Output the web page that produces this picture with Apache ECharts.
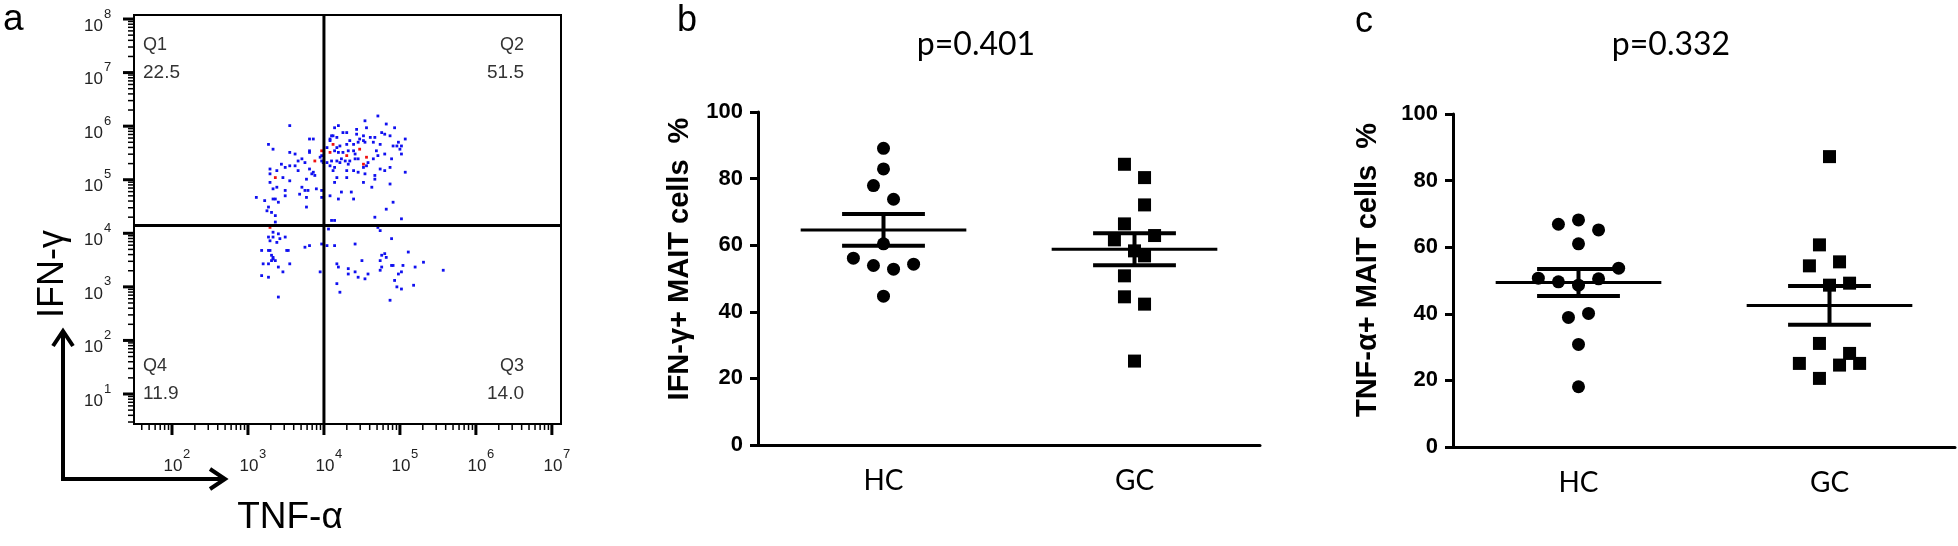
<!DOCTYPE html>
<html><head><meta charset="utf-8">
<script src="https://cdn.jsdelivr.net/npm/echarts@6/dist/echarts.min.js"></script>
<style>html,body{margin:0;padding:0;background:#fff}#c{width:1958px;height:546px}</style>
</head><body><div id="c"></div><script>
// ---------- Panel a: flow cytometry dot plot (values are log10 of fluorescence: [TNF-α, IFN-γ]) ----------
const dotsQ1 = [[3.55,6.01],[3.81,5.76],[3.86,5.76],[3.27,5.66],[3.33,5.57],[3.55,5.51],[3.62,5.48],[3.81,5.54],[3.81,5.51],[3.95,5.42],[3.71,5.39],[3.66,5.35],[3.75,5.32],[3.44,5.29],[3.55,5.26],[3.62,5.26],[3.49,5.23],[3.29,5.20],[3.38,5.17],[3.66,5.17],[3.81,5.20],[3.86,5.14],[3.97,5.35],[3.99,5.32],[3.97,5.45],[3.29,5.11],[3.46,5.04],[3.55,4.98],[3.77,5.01],[3.84,5.11],[3.88,5.08],[3.29,4.95],[3.38,4.86],[3.33,4.83],[3.71,4.86],[3.75,4.80],[3.79,4.80],[3.68,4.73],[3.49,4.80],[3.49,4.70],[3.36,4.64],[3.33,4.64],[3.40,4.58],[3.22,4.61],[3.11,4.67],[3.77,4.67],[3.97,4.67],[3.90,4.83],[3.97,4.80],[3.27,4.49],[3.25,4.42],[3.31,4.39],[3.77,4.49],[3.36,4.33],[3.36,4.21]];
const dotsQ2 = [[4.71,6.19],[4.54,6.10],[4.82,6.04],[4.19,6.01],[4.14,5.97],[4.93,5.97],[4.43,5.94],[4.56,5.97],[4.25,5.88],[4.30,5.88],[4.10,5.82],[4.12,5.82],[4.17,5.79],[4.08,5.76],[4.43,5.85],[4.52,5.82],[4.61,5.79],[4.67,5.79],[4.76,5.88],[4.80,5.85],[4.87,5.82],[5.07,5.76],[4.47,5.76],[4.52,5.73],[4.34,5.73],[4.39,5.66],[4.45,5.70],[4.54,5.70],[4.65,5.70],[4.74,5.66],[4.91,5.63],[4.98,5.70],[5.02,5.63],[5.00,5.57],[4.96,5.63],[4.30,5.66],[4.08,5.73],[4.17,5.60],[4.21,5.63],[4.04,5.60],[4.14,5.54],[4.19,5.51],[4.25,5.51],[4.32,5.54],[4.39,5.54],[4.41,5.48],[4.69,5.54],[4.71,5.45],[4.80,5.48],[5.02,5.48],[4.23,5.39],[4.17,5.35],[4.21,5.32],[4.28,5.35],[4.34,5.35],[4.41,5.39],[4.45,5.39],[4.58,5.32],[4.65,5.39],[4.10,5.35],[4.04,5.32],[4.08,5.26],[4.14,5.23],[4.32,5.29],[4.52,5.23],[4.56,5.26],[4.89,5.39],[4.87,5.23],[4.74,5.20],[4.80,5.17],[5.07,5.14],[4.12,5.17],[4.30,5.17],[4.39,5.17],[4.45,5.14],[4.54,5.11],[4.17,5.04],[4.30,5.04],[4.67,5.08],[4.67,5.01],[4.52,4.95],[4.14,4.95],[4.87,4.92],[4.63,4.86],[4.23,4.77],[4.36,4.77],[4.08,4.70],[4.19,4.64],[4.39,4.64],[4.91,4.58],[4.82,4.45],[4.67,4.30],[5.02,4.27],[4.10,4.24],[4.14,4.24]];
const dotsQ4 = [[3.33,4.02],[3.33,3.93],[3.40,3.99],[3.27,3.93],[3.42,3.90],[3.49,3.93],[3.29,3.86],[3.38,3.83],[3.81,3.77],[3.75,3.74],[3.97,3.80],[3.18,3.68],[3.27,3.68],[3.29,3.68],[3.51,3.68],[3.53,3.68],[3.31,3.59],[3.33,3.55],[3.31,3.49],[3.36,3.49],[3.33,3.52],[3.20,3.43],[3.27,3.43],[3.55,3.43],[3.40,3.37],[3.46,3.28],[3.27,3.18],[3.18,3.21],[3.95,3.28],[3.40,2.81]];
const dotsQ3 = [[4.06,4.08],[4.71,4.11],[4.74,4.05],[4.04,3.77],[4.14,3.77],[4.41,3.80],[4.89,3.90],[5.11,3.65],[4.76,3.59],[4.80,3.62],[4.82,3.55],[4.50,3.49],[4.74,3.49],[4.76,3.37],[4.17,3.43],[4.19,3.37],[4.89,3.40],[4.91,3.40],[5.04,3.40],[5.20,3.37],[5.31,3.46],[4.32,3.34],[4.32,3.24],[4.41,3.28],[4.58,3.24],[4.45,3.18],[4.54,3.15],[4.74,3.31],[4.98,3.24],[5.02,3.28],[5.57,3.31],[4.93,3.12],[5.18,3.03],[4.17,3.06],[4.96,3.00],[5.02,2.96],[4.21,2.90],[4.87,2.75]];
const dotsRed = [[3.97,5.54],[3.88,5.35],[3.36,5.04],[4.12,5.66],[4.08,5.51],[4.47,5.57],[4.56,5.42],[4.30,5.45],[4.52,5.29],[3.29,4.11]];
const gateTNF = 10000;
const gateIFN = 14000;
const quadNames = ['Q1','Q2','Q3','Q4'];
const quadPct = [22.5, 51.5, 14.0, 11.9];

// ---------- Panels b and c: % of MAIT cells ----------
const groups = ['HC','GC'];
const hcIFN = [89.1, 82.9, 77.9, 73.8, 60.4, 56.1, 53.9, 52.8, 54.3, 44.7];
const hcIFNJitter = [0, 0, -0.04, 0.04, 0, -0.12, -0.04, 0.04, 0.12, 0];
const gcIFN = [84.3, 80.3, 72.1, 66.4, 61.6, 62.9, 58.3, 56.8, 50.8, 44.5, 42.3, 25.2];
const gcIFNJitter = [-0.04, 0.04, 0.04, -0.04, -0.08, 0.08, 0, 0.04, -0.04, -0.04, 0.04, 0];
const hcTNF = [66.9, 68.2, 65.2, 61.0, 53.7, 50.7, 49.6, 48.6, 50.5, 40.1, 38.9, 30.8, 18.1];
const hcTNFJitter = [-0.08, 0, 0.08, 0, 0.16, -0.16, -0.08, 0, 0.08, 0.04, -0.04, 0, 0];
const gcTNF = [87.2, 60.7, 55.6, 54.4, 48.6, 49.2, 31.1, 28.1, 25.1, 24.6, 25.1, 20.6];
const gcTNFJitter = [0, -0.04, 0.04, -0.08, 0, 0.08, -0.04, 0.08, -0.12, 0.04, 0.12, -0.04];
const pValues = [0.401, 0.332];
const yTitles = ['IFN-\u03b3+ MAIT cells  %', 'TNF-\u03b1+ MAIT cells  %'];

// ---------- build ----------
const chart = echarts.init(document.getElementById('c'), null, {renderer: 'canvas'});
const pow10 = arr => arr.map(p => [Math.pow(10, p[0]), Math.pow(10, p[1])]);
const aXMin = Math.pow(10, 1.5), aXMax = Math.pow(10, 7.12);
const aYMin = Math.pow(10, 0.44), aYMax = Math.pow(10, 8.075);

const tickData = [];
for (let n = 1; n <= 7; n++) for (let k = 1; k <= 9; k++) {
  const v = k * Math.pow(10, n);
  if (v >= aXMin && v <= aXMax) tickData.push([v, aYMin, k === 1 ? 1 : 0, 0]);
}
for (let n = 0; n <= 8; n++) for (let k = 1; k <= 9; k++) {
  const v = k * Math.pow(10, n);
  if (v >= aYMin && v <= aYMax) tickData.push([aXMin, v, k === 1 ? 1 : 0, 1]);
}
const lblFont = '17px "Liberation Sans", Arial, sans-serif';
const supFont = '13px "Liberation Sans", Arial, sans-serif';
function txt(text, x, y, font, align, valign, fill) {
  return {type: 'text', style: {text, x, y, font, fill: fill || '#222', align, verticalAlign: valign, textAlign: align, textVerticalAlign: valign}};
}
function renderTick(params, api) {
  const cs = params.coordSys;
  const v0 = api.value(0), v1 = api.value(1), major = api.value(2), ax = api.value(3);
  const ch = [];
  if (ax === 0) {
    const x = api.coord([v0, v1])[0];
    const b = cs.y + cs.height;
    ch.push({type: 'line', shape: {x1: x, y1: b, x2: x, y2: b + (major ? 11 : 6)}, style: {stroke: '#000', lineWidth: major ? 3 : 1.5}});
    if (major) {
      const e = Math.round(Math.log10(v0));
      ch.push(txt('10', x + 1, b + 42, lblFont, 'center', 'middle'));
      ch.push(txt(String(e), x + 11, b + 30, supFont, 'left', 'middle'));
    }
  } else {
    const y = api.coord([v0, v1])[1];
    const l = cs.x;
    ch.push({type: 'line', shape: {x1: l - (major ? 11 : 6), y1: y, x2: l, y2: y}, style: {stroke: '#000', lineWidth: major ? 3 : 1.5}});
    if (major) {
      const e = Math.round(Math.log10(v1));
      ch.push(txt('10', l - 31, y + 7, lblFont, 'right', 'middle'));
      ch.push(txt(String(e), l - 30, y - 5, supFont, 'left', 'middle'));
    }
  }
  return {type: 'group', children: ch};
}
function renderGate(params, api) {
  const cs = params.coordSys;
  const p = api.coord([api.value(0), api.value(1)]);
  return {type: 'group', children: [
    {type: 'line', shape: {x1: p[0], y1: cs.y, x2: p[0], y2: cs.y + cs.height}, style: {stroke: '#000', lineWidth: 3}},
    {type: 'line', shape: {x1: cs.x, y1: p[1], x2: cs.x + cs.width, y2: p[1]}, style: {stroke: '#000', lineWidth: 3}}
  ]};
}
const mean = a => a.reduce((s, v) => s + v, 0) / a.length;
const sem = a => { const m = mean(a); return Math.sqrt(a.reduce((s, v) => s + (v - m) * (v - m), 0) / (a.length - 1)) / Math.sqrt(a.length); };
function renderMeanSem(params, api) {
  const g = api.value(0), m = api.value(1), s = api.value(2);
  const L = (a, b, w) => ({type: 'line', shape: {x1: a[0], y1: a[1], x2: b[0], y2: b[1]}, style: {stroke: '#000', lineWidth: w}});
  return {type: 'group', children: [
    L(api.coord([g - 0.33, m]), api.coord([g + 0.33, m]), 3),
    L(api.coord([g - 0.165, m + s]), api.coord([g + 0.165, m + s]), 4),
    L(api.coord([g - 0.165, m - s]), api.coord([g + 0.165, m - s]), 4),
    L(api.coord([g, m - s]), api.coord([g, m + s]), 4)
  ]};
}
const jit = (vals, jt, g) => vals.map((v, i) => [g + jt[i], v]);

function catAxis(gi) {
  return {gridIndex: gi, type: 'category', data: groups, boundaryGap: true,
    axisLine: {onZero: false, lineStyle: {color: '#000', width: 3}},
    axisTick: {alignWithLabel: true, length: 7, lineStyle: {color: '#000', width: 3}},
    axisLabel: {margin: 22, color: '#000', fontSize: 28, fontFamily: 'Lato, "Open Sans", sans-serif'},
    splitLine: {show: false}};
}
function valAxisY(gi) {
  return {gridIndex: gi, type: 'value', min: 0, max: 100, interval: 20,
    axisLine: {show: true, onZero: false, lineStyle: {color: '#000', width: 3}},
    axisTick: {show: true, length: 8, lineStyle: {color: '#000', width: 3}},
    axisLabel: {margin: 15, color: '#000', fontSize: 22, fontWeight: 'bold', fontFamily: '"Liberation Sans", Arial, sans-serif'},
    splitLine: {show: false}};
}
const hiddenX = gi => ({gridIndex: gi, type: 'value', min: 0.5, max: 2.5, show: false, splitLine: {show: false}});

const dotStyle = c => ({type: 'scatter', xAxisIndex: 0, yAxisIndex: 0, symbol: 'rect', symbolSize: 2.8, itemStyle: {color: c, opacity: 1}, silent: true, z: 2});
const bigDot = (xi, yi, sym, data) => ({type: 'scatter', xAxisIndex: xi, yAxisIndex: yi, symbol: sym, symbolSize: 13, itemStyle: {color: '#000', opacity: 1}, data, silent: true, z: 2});

const fontA = '"Liberation Sans", Arial, sans-serif';
const T = (text, x, y, font, align, extra) => Object.assign({type: 'text', x, y, style: {text, font, fill: '#000', align, verticalAlign: 'middle', textAlign: align, textVerticalAlign: 'middle'}}, extra || {});
const graphics = [
  // quadrant labels
  T(quadNames[0], 143, 45, '18px ' + fontA, 'left'),
  T(quadPct[0].toFixed(1), 143, 73, '19px ' + fontA, 'left'),
  T(quadNames[1], 524, 45, '18px ' + fontA, 'right'),
  T(quadPct[1].toFixed(1), 524, 73, '19px ' + fontA, 'right'),
  T(quadNames[2], 524, 366, '18px ' + fontA, 'right'),
  T(quadPct[2].toFixed(1), 524, 394, '19px ' + fontA, 'right'),
  T(quadNames[3], 143, 366, '18px ' + fontA, 'left'),
  T(quadPct[3].toFixed(1), 143, 394, '19px ' + fontA, 'left'),
  // arrows
  {type: 'polyline', shape: {points: [[63, 479], [63, 331]]}, style: {stroke: '#000', lineWidth: 4, fill: null}},
  {type: 'polyline', shape: {points: [[53, 346], [63, 331], [73, 346]]}, style: {stroke: '#000', lineWidth: 4, fill: null}},
  {type: 'polyline', shape: {points: [[61, 479], [225, 479]]}, style: {stroke: '#000', lineWidth: 4, fill: null}},
  {type: 'polyline', shape: {points: [[210, 469], [225, 479], [210, 489]]}, style: {stroke: '#000', lineWidth: 4, fill: null}},
  T('IFN-\u03b3', 53, 274, '36px ' + fontA, 'center', {rotation: Math.PI / 2}),
  T('TNF-\u03b1', 290, 518, '37px ' + fontA, 'center'),
  // panel letters
  T('a', 3, 20, '37px ' + fontA, 'left'),
  T('b', 677, 21, '36px ' + fontA, 'left'),
  T('c', 1355, 22, '36px ' + fontA, 'left'),
  // p values
  T('p=' + pValues[0].toFixed(3), 976, 45, '32px Lato, "Open Sans", sans-serif', 'center'),
  T('p=' + pValues[1].toFixed(3), 1671, 45, '32px Lato, "Open Sans", sans-serif', 'center'),
  // y titles
  T(yTitles[0], 680, 259, 'bold 29px ' + fontA, 'center', {rotation: Math.PI / 2}),
  T(yTitles[1], 1368, 270, 'bold 29px ' + fontA, 'center', {rotation: Math.PI / 2})
];
graphics.slice(0, 8).forEach(g => { g.style.fill = '#333'; });

const option = {
  animation: false,
  backgroundColor: '#fff',
  grid: [
    {left: 134, top: 15, width: 427, height: 409, show: true, borderColor: '#000', borderWidth: 2, backgroundColor: 'transparent', outerBoundsMode: 'none'},
    {left: 758, top: 112, width: 502, height: 333, outerBoundsMode: 'none'},
    {left: 1453, top: 114, width: 502, height: 333, outerBoundsMode: 'none'}
  ],
  xAxis: [
    {gridIndex: 0, type: 'log', min: aXMin, max: aXMax, show: false, splitLine: {show: false}},
    catAxis(1), hiddenX(1),
    catAxis(2), hiddenX(2)
  ],
  yAxis: [
    {gridIndex: 0, type: 'log', min: aYMin, max: aYMax, show: false, splitLine: {show: false}},
    valAxisY(1), valAxisY(2)
  ],
  series: [
    Object.assign(dotStyle('#1010f0'), {data: pow10(dotsQ1.concat(dotsQ2, dotsQ3, dotsQ4))}),
    Object.assign(dotStyle('#f01010'), {data: pow10(dotsRed)}),
    {type: 'custom', xAxisIndex: 0, yAxisIndex: 0, data: [[gateTNF, gateIFN]], encode: {x: 0, y: 1}, renderItem: renderGate, silent: true, z: 3},
    {type: 'custom', xAxisIndex: 0, yAxisIndex: 0, data: tickData, encode: {x: 0, y: 1}, renderItem: renderTick, silent: true, z: 4, clip: false},
    bigDot(2, 1, 'circle', jit(hcIFN, hcIFNJitter, 1)),
    bigDot(2, 1, 'rect', jit(gcIFN, gcIFNJitter, 2)),
    {type: 'custom', xAxisIndex: 2, yAxisIndex: 1, encode: {x: 0, y: 1}, data: [[1, mean(hcIFN), sem(hcIFN)], [2, mean(gcIFN), sem(gcIFN)]], renderItem: renderMeanSem, silent: true, z: 3},
    bigDot(4, 2, 'circle', jit(hcTNF, hcTNFJitter, 1)),
    bigDot(4, 2, 'rect', jit(gcTNF, gcTNFJitter, 2)),
    {type: 'custom', xAxisIndex: 4, yAxisIndex: 2, encode: {x: 0, y: 1}, data: [[1, mean(hcTNF), sem(hcTNF)], [2, mean(gcTNF), sem(gcTNF)]], renderItem: renderMeanSem, silent: true, z: 3}
  ],
  graphic: graphics
};
chart.setOption(option);
</script></body></html>
